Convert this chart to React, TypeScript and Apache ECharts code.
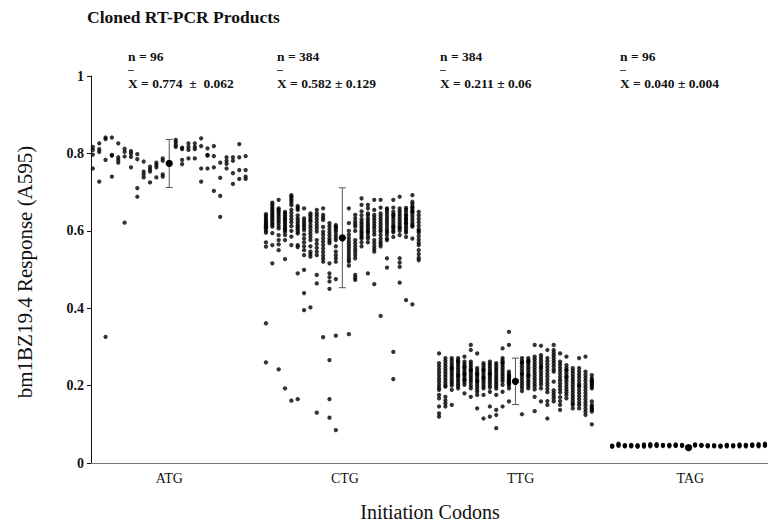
import React, { useEffect, useRef } from "react";
import * as echarts from "echarts";

const codons = ["ATG", "CTG", "TTG", "TAG"];
const nLabels = ["n = 96", "n = 384", "n = 384", "n = 96"];
const meanLabels = ["X = 0.774  \u00b1  0.062", "X = 0.582 \u00b1 0.129", "X = 0.211 \u00b1 0.06", "X = 0.040 \u00b1 0.004"];
const means = [0.774, 0.582, 0.211, 0.04];
const sds = [0.062, 0.129, 0.06, 0.004];
const yTicks = [0, 0.2, 0.4, 0.6, 0.8, 1];

// Each group: 24 columns (12 left of mean bar, 12 right)
const atg = [
  [0.817, 0.809, 0.797, 0.761], [0.826, 0.811, 0.804, 0.727], [0.841, 0.837, 0.783, 0.326], [0.841, 0.796, 0.794, 0.74],
  [0.826, 0.79, 0.783, 0.776], [0.812, 0.804, 0.792, 0.621], [0.806, 0.8, 0.791, 0.764], [0.798, 0.785, 0.71, 0.688],
  [0.779, 0.753, 0.746, 0.738], [0.766, 0.759, 0.753, 0.725], [0.776, 0.77, 0.764, 0.738], [0.787, 0.781, 0.746, 0.74],
  [0.835, 0.829, 0.822, 0.817], [0.815, 0.811, 0.783, 0.772], [0.826, 0.817, 0.809, 0.787], [0.826, 0.817, 0.811, 0.787],
  [0.839, 0.819, 0.761, 0.727], [0.813, 0.796, 0.761, 0.794], [0.819, 0.793, 0.764, 0.703], [0.776, 0.737, 0.69, 0.636],
  [0.79, 0.781, 0.773, 0.761], [0.79, 0.781, 0.749, 0.721], [0.824, 0.79, 0.757, 0.734], [0.793, 0.757, 0.74, 0.734],
];

const ctg = [
  [0.643, 0.638, 0.633, 0.628, 0.624, 0.62, 0.616, 0.612, 0.609, 0.606, 0.595, 0.57, 0.559, 0.361, 0.26, 0.6],
  [0.673, 0.668, 0.662, 0.657, 0.652, 0.647, 0.642, 0.637, 0.632, 0.627, 0.621, 0.616, 0.611, 0.594, 0.563, 0.516],
  [0.68, 0.658, 0.654, 0.649, 0.644, 0.638, 0.632, 0.626, 0.62, 0.613, 0.606, 0.589, 0.576, 0.565, 0.55, 0.242],
  [0.649, 0.645, 0.64, 0.635, 0.63, 0.626, 0.621, 0.616, 0.611, 0.606, 0.602, 0.589, 0.576, 0.527, 0.193, 0.597],
  [0.692, 0.688, 0.683, 0.678, 0.672, 0.666, 0.654, 0.646, 0.638, 0.63, 0.622, 0.612, 0.6, 0.585, 0.563, 0.161],
  [0.664, 0.659, 0.654, 0.632, 0.626, 0.62, 0.614, 0.609, 0.604, 0.598, 0.563, 0.558, 0.49, 0.165, 0.64, 0.593],
  [0.658, 0.632, 0.626, 0.62, 0.614, 0.608, 0.602, 0.59, 0.58, 0.57, 0.56, 0.537, 0.499, 0.439, 0.395, 0.55],
  [0.645, 0.64, 0.634, 0.628, 0.623, 0.615, 0.608, 0.6, 0.592, 0.584, 0.576, 0.546, 0.54, 0.533, 0.402, 0.56],
  [0.654, 0.645, 0.638, 0.63, 0.622, 0.614, 0.606, 0.576, 0.566, 0.556, 0.546, 0.537, 0.486, 0.464, 0.13, 0.598],
  [0.658, 0.641, 0.634, 0.628, 0.598, 0.59, 0.581, 0.572, 0.563, 0.554, 0.545, 0.536, 0.528, 0.52, 0.325, 0.61],
  [0.62, 0.612, 0.604, 0.596, 0.588, 0.58, 0.574, 0.568, 0.516, 0.49, 0.48, 0.469, 0.45, 0.266, 0.165, 0.117],
  [0.615, 0.609, 0.603, 0.598, 0.59, 0.583, 0.576, 0.546, 0.537, 0.529, 0.52, 0.475, 0.329, 0.085, 0.56, 0.61],
  [0.658, 0.581, 0.573, 0.566, 0.559, 0.552, 0.545, 0.538, 0.531, 0.525, 0.52, 0.51, 0.333, 0.59, 0.6, 0.62],
  [0.641, 0.632, 0.624, 0.617, 0.611, 0.576, 0.568, 0.56, 0.552, 0.545, 0.537, 0.529, 0.486, 0.479, 0.473, 0.6],
  [0.684, 0.667, 0.623, 0.617, 0.611, 0.605, 0.599, 0.594, 0.589, 0.584, 0.58, 0.57, 0.56, 0.63, 0.64, 0.65],
  [0.667, 0.658, 0.632, 0.626, 0.62, 0.614, 0.608, 0.602, 0.598, 0.594, 0.58, 0.49, 0.64, 0.645, 0.586, 0.57],
  [0.68, 0.654, 0.641, 0.634, 0.627, 0.62, 0.613, 0.606, 0.598, 0.576, 0.568, 0.56, 0.553, 0.546, 0.462, 0.59],
  [0.68, 0.645, 0.638, 0.631, 0.624, 0.617, 0.61, 0.603, 0.598, 0.589, 0.58, 0.572, 0.566, 0.38, 0.66, 0.56],
  [0.658, 0.649, 0.642, 0.635, 0.628, 0.621, 0.614, 0.606, 0.589, 0.58, 0.576, 0.529, 0.505, 0.6, 0.596, 0.655],
  [0.68, 0.649, 0.642, 0.635, 0.628, 0.621, 0.614, 0.606, 0.584, 0.287, 0.217, 0.596, 0.6, 0.61, 0.66, 0.64],
  [0.688, 0.658, 0.651, 0.644, 0.637, 0.63, 0.623, 0.616, 0.606, 0.589, 0.529, 0.518, 0.507, 0.466, 0.61, 0.6],
  [0.659, 0.654, 0.647, 0.64, 0.633, 0.626, 0.619, 0.612, 0.606, 0.584, 0.421, 0.6, 0.595, 0.64, 0.63, 0.62],
  [0.692, 0.675, 0.669, 0.662, 0.655, 0.648, 0.641, 0.634, 0.627, 0.62, 0.614, 0.611, 0.58, 0.41, 0.66, 0.65],
  [0.649, 0.64, 0.631, 0.622, 0.613, 0.604, 0.595, 0.586, 0.577, 0.569, 0.563, 0.55, 0.54, 0.53, 0.524, 0.6],
];

const ttg = [
  [0.283, 0.258, 0.25, 0.242, 0.234, 0.226, 0.218, 0.21, 0.202, 0.195, 0.189, 0.176, 0.167, 0.146, 0.128, 0.12],
  [0.271, 0.264, 0.257, 0.25, 0.243, 0.236, 0.229, 0.222, 0.215, 0.208, 0.201, 0.197, 0.171, 0.162, 0.154, 0.146],
  [0.271, 0.265, 0.259, 0.253, 0.247, 0.241, 0.235, 0.229, 0.223, 0.217, 0.211, 0.206, 0.189, 0.15, 0.2, 0.245],
  [0.271, 0.265, 0.259, 0.253, 0.247, 0.241, 0.235, 0.229, 0.223, 0.217, 0.211, 0.205, 0.199, 0.193, 0.262, 0.226],
  [0.275, 0.262, 0.256, 0.25, 0.244, 0.238, 0.232, 0.226, 0.22, 0.214, 0.208, 0.202, 0.18, 0.248, 0.23, 0.215],
  [0.305, 0.292, 0.262, 0.256, 0.25, 0.244, 0.238, 0.232, 0.226, 0.22, 0.214, 0.208, 0.2, 0.193, 0.171, 0.24],
  [0.283, 0.245, 0.239, 0.233, 0.227, 0.221, 0.215, 0.209, 0.203, 0.197, 0.19, 0.184, 0.176, 0.141, 0.23, 0.212],
  [0.258, 0.252, 0.246, 0.24, 0.234, 0.228, 0.222, 0.216, 0.21, 0.204, 0.198, 0.193, 0.176, 0.115, 0.24, 0.22],
  [0.262, 0.256, 0.25, 0.244, 0.238, 0.232, 0.226, 0.22, 0.214, 0.208, 0.201, 0.195, 0.184, 0.146, 0.12, 0.23],
  [0.258, 0.252, 0.246, 0.24, 0.234, 0.228, 0.222, 0.216, 0.21, 0.204, 0.198, 0.192, 0.176, 0.137, 0.124, 0.09],
  [0.296, 0.271, 0.265, 0.259, 0.253, 0.247, 0.241, 0.235, 0.229, 0.223, 0.217, 0.211, 0.202, 0.184, 0.146, 0.26],
  [0.339, 0.305, 0.236, 0.23, 0.224, 0.218, 0.212, 0.206, 0.2, 0.193, 0.159, 0.215, 0.227, 0.22, 0.205, 0.21],
  [0.271, 0.264, 0.257, 0.25, 0.243, 0.236, 0.229, 0.222, 0.215, 0.208, 0.201, 0.194, 0.186, 0.126, 0.26, 0.23],
  [0.271, 0.265, 0.259, 0.253, 0.247, 0.241, 0.235, 0.229, 0.223, 0.217, 0.211, 0.205, 0.199, 0.193, 0.262, 0.226],
  [0.305, 0.275, 0.268, 0.261, 0.254, 0.247, 0.24, 0.233, 0.226, 0.219, 0.212, 0.205, 0.198, 0.19, 0.171, 0.134],
  [0.303, 0.279, 0.272, 0.265, 0.258, 0.251, 0.244, 0.237, 0.23, 0.223, 0.216, 0.209, 0.202, 0.193, 0.159, 0.248],
  [0.292, 0.271, 0.263, 0.255, 0.247, 0.239, 0.231, 0.223, 0.215, 0.207, 0.199, 0.191, 0.183, 0.16, 0.15, 0.115],
  [0.305, 0.292, 0.285, 0.278, 0.271, 0.264, 0.257, 0.25, 0.242, 0.236, 0.188, 0.181, 0.174, 0.167, 0.159, 0.21],
  [0.283, 0.262, 0.254, 0.246, 0.238, 0.23, 0.222, 0.214, 0.206, 0.198, 0.19, 0.182, 0.17, 0.16, 0.15, 0.137],
  [0.275, 0.253, 0.246, 0.239, 0.232, 0.225, 0.218, 0.211, 0.204, 0.197, 0.19, 0.183, 0.176, 0.167, 0.24, 0.222],
  [0.245, 0.238, 0.231, 0.224, 0.217, 0.21, 0.203, 0.196, 0.189, 0.182, 0.175, 0.168, 0.161, 0.154, 0.15, 0.141],
  [0.271, 0.245, 0.237, 0.229, 0.221, 0.213, 0.205, 0.197, 0.189, 0.181, 0.173, 0.165, 0.157, 0.15, 0.141, 0.2],
  [0.275, 0.236, 0.228, 0.22, 0.212, 0.204, 0.196, 0.188, 0.18, 0.172, 0.164, 0.156, 0.148, 0.14, 0.132, 0.124],
  [0.227, 0.219, 0.211, 0.202, 0.193, 0.159, 0.15, 0.141, 0.133, 0.1, 0.21, 0.197, 0.145, 0.137, 0.215, 0.205],
];

const tag = [
  [0.044, 0.043, 0.042, 0.045], [0.05, 0.048, 0.046, 0.044], [0.046, 0.045, 0.044, 0.043], [0.047, 0.045, 0.044, 0.043],
  [0.046, 0.044, 0.043, 0.042], [0.048, 0.046, 0.044, 0.042], [0.049, 0.047, 0.045, 0.043], [0.049, 0.047, 0.045, 0.044],
  [0.047, 0.046, 0.045, 0.044], [0.047, 0.046, 0.045, 0.043], [0.048, 0.046, 0.045, 0.044], [0.047, 0.046, 0.045, 0.044],
  [0.048, 0.047, 0.046, 0.045], [0.047, 0.046, 0.045, 0.044], [0.046, 0.045, 0.044, 0.043], [0.046, 0.045, 0.044, 0.043],
  [0.045, 0.044, 0.043, 0.042], [0.047, 0.046, 0.044, 0.043], [0.046, 0.045, 0.044, 0.043], [0.048, 0.046, 0.044, 0.043],
  [0.047, 0.046, 0.044, 0.043], [0.048, 0.047, 0.045, 0.044], [0.049, 0.047, 0.045, 0.043], [0.05, 0.048, 0.046, 0.044],
];

const groupColumns = [atg, ctg, ttg, tag];

// layout of columns within a group (axis units; group spacing = 1)
const GAP = 0.0376;
const STEP = 0.0367;
function colOffset(j: number) {
  return j < 12 ? -(GAP + (11 - j) * STEP) : GAP + (j - 12) * STEP;
}

export default function App() {
  const ref = useRef<HTMLDivElement>(null);
  useEffect(() => {
    if (!ref.current) return;
    const chart = echarts.init(ref.current, null, { renderer: "svg" });
    const points: number[][] = [];
    groupColumns.forEach((cols, g) => {
      cols.forEach((col, j) => {
        col.forEach((v) => points.push([g + colOffset(j), v]));
      });
    });
    const errData = means.map((m, i) => [i, m, sds[i]]);
    const serif = "'Liberation Serif', 'Times New Roman', serif";
    const annX = [128, 277, 440, 620];
    const graphics: any[] = [
      {
        type: "text",
        left: 87,
        top: 8,
        style: { text: "Cloned RT-PCR Products", font: `bold 17.5px ${serif}`, fill: "#111" },
      },
      {
        type: "text",
        x: 25,
        y: 272,
        rotation: Math.PI / 2,
        style: {
          text: "bm1BZ19.4 Response (A595)",
          font: `21px ${serif}`,
          fill: "#111",
          align: "center",
          verticalAlign: "middle",
        },
      },
      {
        type: "text",
        x: 430,
        y: 512,
        style: {
          text: "Initiation Codons",
          font: `20px ${serif}`,
          fill: "#111",
          align: "center",
          verticalAlign: "middle",
        },
      },
    ];
    annX.forEach((x, i) => {
      graphics.push({
        type: "text",
        x,
        y: 56,
        style: { text: nLabels[i], font: `bold 13.5px ${serif}`, fill: "#111", verticalAlign: "middle" },
      });
      graphics.push({
        type: "text",
        x,
        y: 83,
        style: { text: meanLabels[i], font: `bold 13.5px ${serif}`, fill: "#111", verticalAlign: "middle" },
      });
      graphics.push({
        type: "line",
        shape: { x1: x, y1: 70.5, x2: x + 6, y2: 70.5 },
        style: { stroke: "#444", lineWidth: 1 },
      });
    });

    chart.setOption({
      animation: false,
      backgroundColor: "#fff",
      grid: { left: 91, right: 0, top: 76, bottom: 62, containLabel: false },
      xAxis: {
        type: "value",
        min: -0.452,
        max: 3.459,
        splitLine: { show: false },
        axisTick: { show: false },
        axisLine: { show: true, onZero: false, lineStyle: { color: "#777", width: 1 } },
        axisLabel: {
          customValues: [0, 1.015, 2.03, 3.01],
          formatter: (v: number) => codons[Math.round(v)] ?? "",
          margin: 8,
          fontFamily: serif,
          fontSize: 14,
          color: "#111",
        },
      },
      yAxis: {
        type: "value",
        min: 0,
        max: 1,
        interval: 0.2,
        splitLine: { show: false },
        axisLine: { show: true, onZero: false, lineStyle: { color: "#111", width: 1 } },
        axisTick: { show: true, inside: false, length: 4, lineStyle: { color: "#111" } },
        axisLabel: {
          formatter: (v: number) => (yTicks.includes(Math.round(v * 10) / 10) ? String(Math.round(v * 10) / 10) : ""),
          margin: 7,
          fontFamily: serif,
          fontSize: 14,
          fontWeight: "bold",
          color: "#111",
        },
      },
      series: [
        {
          type: "scatter",
          data: points,
          symbol: "circle",
          symbolSize: 4.3,
          itemStyle: { color: "#000" },
          silent: true,
        },
        {
          type: "custom",
          data: errData,
          silent: true,
          renderItem: (params: any, api: any) => {
            const x = api.value(0);
            const m = api.value(1);
            const s = api.value(2);
            const top = api.coord([x, m + s]);
            const bot = api.coord([x, m - s]);
            const mid = api.coord([x, m]);
            const w = 3.5;
            const ls = { stroke: "#555", lineWidth: 1 };
            return {
              type: "group",
              children: [
                { type: "line", shape: { x1: top[0], y1: top[1], x2: bot[0], y2: bot[1] }, style: ls },
                { type: "line", shape: { x1: top[0] - w, y1: top[1], x2: top[0] + w, y2: top[1] }, style: ls },
                { type: "line", shape: { x1: bot[0] - w, y1: bot[1], x2: bot[0] + w, y2: bot[1] }, style: ls },
                { type: "circle", shape: { cx: mid[0], cy: mid[1], r: 3.6 }, style: { fill: "#000" } },
              ],
            };
          },
        },
      ],
      graphic: graphics,
    });
    return () => chart.dispose();
  }, []);
  return (
    <div
      ref={ref}
      style={{ position: "fixed", left: 0, top: 0, width: 768, height: 525, background: "#fff" }}
    />
  );
}
